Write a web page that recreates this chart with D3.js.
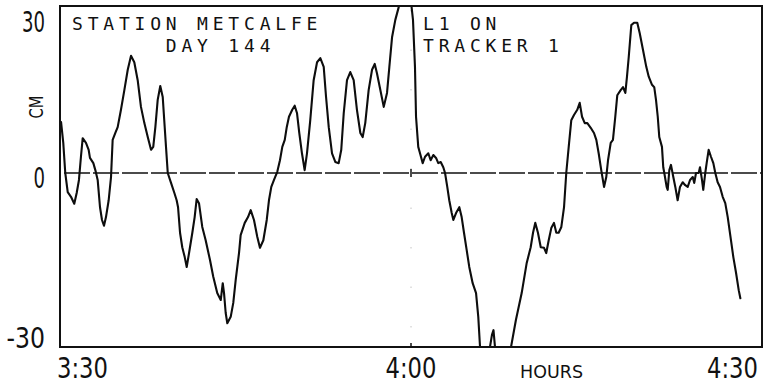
<!DOCTYPE html>
<html>
<head>
<meta charset="utf-8">
<script src="https://cdn.jsdelivr.net/npm/d3@7"></script>
<style>
  html, body { margin: 0; padding: 0; background: #fff; }
  svg { display: block; }
</style>
</head>
<body>
<svg id="chart" width="765" height="387"></svg>
<script>
// Sea-level record, station Metcalfe, day 144 (minutes after 3:30, height in cm)
const minutes = [
  0.09, 0.28, 0.45, 0.66, 0.94, 1.22, 1.43, 1.62, 1.79, 1.94, 2.22, 2.45, 2.56, 2.85, 3.02, 3.22, 3.42, 3.59, 3.76, 3.93,
  4.16, 4.36, 4.50, 4.73, 4.93, 5.21, 5.50, 5.79, 6.07, 6.35, 6.64, 6.92, 7.21, 7.50, 7.78, 7.97, 8.15, 8.35, 8.57, 8.78,
  8.91, 9.06, 9.21, 9.49, 9.77, 9.97, 10.09, 10.26, 10.45, 10.66, 10.83, 11.03, 11.31, 11.51, 11.68, 11.88, 12.16, 12.45, 12.82, 13.10,
  13.44, 13.74, 13.91, 14.02, 14.16, 14.30, 14.59, 14.81, 15.02, 15.30, 15.44, 15.79, 16.07, 16.30, 16.58, 16.86, 17.09, 17.38, 17.67, 17.86,
  18.06, 18.29, 18.57, 18.80, 19.00, 19.21, 19.38, 19.57, 19.85, 20.06, 20.26, 20.45, 20.68, 20.91, 21.11, 21.39, 21.68, 21.97, 22.25, 22.54,
  22.74, 22.97, 23.25, 23.53, 23.82, 24.04, 24.25, 24.53, 24.81, 25.10, 25.38, 25.67, 25.87, 26.09, 26.38, 26.67, 26.90, 27.09, 27.38, 27.67,
  27.95, 28.15, 28.38, 28.66, 28.95, 29.23, 29.66, 30.04, 30.17, 30.34, 30.43, 30.62, 30.77, 31.00, 31.20, 31.48, 31.68, 31.91, 32.14, 32.33,
  32.54, 32.76, 32.91, 33.10, 33.27, 33.48, 33.62, 33.85, 34.13, 34.33, 34.53, 34.76, 34.98, 35.27, 35.56, 35.75, 35.90, 36.32, 36.75, 36.92,
  37.05, 37.18, 37.60, 38.10, 38.55, 38.97, 39.46, 39.89, 40.23, 40.43, 40.62, 40.85, 41.09, 41.37, 41.56, 41.77, 41.99, 42.22, 42.42, 42.62,
  42.85, 43.08, 43.27, 43.48, 43.70, 43.93, 44.21, 44.42, 44.62, 44.85, 45.07, 45.36, 45.64, 45.84, 46.04, 46.26, 46.50, 46.69, 46.84, 47.07,
  47.26, 47.46, 47.63, 47.92, 48.12, 48.32, 48.46, 48.61, 48.83, 49.06, 49.34, 49.55, 49.83, 50.11, 50.32, 50.60, 50.79, 50.94, 51.09, 51.22,
  51.45, 51.56, 51.65, 51.85, 51.94, 52.08, 52.22, 52.42, 52.59, 52.79, 52.99, 53.22, 53.44, 53.65, 53.85, 54.08, 54.21, 54.36, 54.59, 54.70,
  54.87, 54.98, 55.15, 55.27, 55.44, 55.64, 55.84, 56.01, 56.21, 56.41, 56.64, 56.86, 57.07, 57.35, 57.55, 57.78, 58.01, 58.15
];
const heightCm = [
  8.8, 5.2, 0, -3.3, -4.1, -5.3, -3.4, -1.2, 2.8, 6.0, 5.2, 4.0, 2.6, 1.7, 0.5, -1.2, -5.9, -8.1, -9.1, -7.6,
  -4.7, -0.7, 5.7, 6.9, 7.9, 10.9, 14.3, 17.8, 20.2, 19.1, 16.0, 11.4, 8.6, 6.2, 4.0, 4.5, 7.9, 12.6, 15.0, 13.1,
  9.1, 4.5, 0, -1.7, -3.4, -4.7, -5.9, -10.3, -12.8, -14.5, -16.2, -13.8, -10.3, -7.6, -4.5, -5.2, -9.3, -11.6, -15.0, -17.9,
  -20.7, -21.9, -19.0, -20.7, -24.1, -25.9, -24.8, -22.4, -18.4, -13.8, -10.7, -8.6, -7.6, -6.4, -8.1, -11.0, -12.9, -11.6, -8.1, -4.7,
  -2.4, -1.2, 0.2, 2.2, 4.5, 5.7, 7.9, 9.7, 10.9, 11.6, 10.3, 6.9, 3.4, 0.5, 3.4, 9.1, 16.0, 19.1, 19.8, 18.3,
  13.1, 7.9, 3.4, 1.9, 1.7, 4.0, 10.3, 16.0, 17.4, 16.0, 10.9, 6.9, 6.2, 8.6, 14.3, 17.8, 18.8, 17.2, 14.3, 11.4,
  13.8, 18.3, 23.4, 26.4, 28.6, 31.5, 32.4, 28.8, 26.4, 18.3, 9.7, 4.5, 3.4, 1.7, 2.8, 3.4, 2.2, 3.1, 2.6, 1.7,
  1.9, 1.0, 0, -2.4, -4.7, -6.9, -8.1, -6.9, -5.9, -7.6, -10.3, -13.3, -16.2, -19.0, -20.7, -24.8, -30.0, -33.0, -30.0, -27.9,
  -27.1, -30.0, -33.0, -33.0, -30.0, -25.3, -20.7, -15.5, -12.8, -10.3, -8.6, -10.3, -12.8, -12.9, -13.8, -11.6, -9.5, -8.6, -10.3, -10.3,
  -9.3, -5.9, 0, 4.5, 9.1, 10.0, 10.9, 12.1, 9.7, 8.6, 8.6, 7.8, 6.9, 5.7, 3.4, 0.5, -2.4, -0.7, 2.2, 5.2,
  5.7, 9.7, 13.4, 14.3, 14.8, 13.8, 16.6, 20.0, 25.5, 25.9, 25.9, 24.1, 21.2, 18.3, 16.6, 15.2, 14.8, 12.6, 9.7, 6.2,
  4.5, 1.0, 0, -2.4, -2.9, 0.5, 1.4, -0.7, -2.4, -4.7, -2.4, -1.6, -2.1, -2.4, -1.2, -0.7, -1.7, 0, 0, 1.0,
  -1.2, -2.9, 0, 1.7, 4.0, 2.8, 1.7, 0, -1.6, -2.4, -4.1, -5.2, -7.6, -11.6, -14.5, -17.2, -20.2, -21.6
];

const yTicks = [30, 0, -30];
const xTickMinutes = [0, 30, 60];
const xTickLabels = ["3:30", "4:00", "4:30"];
const titleLeft = ["STATION METCALFE", "      DAY 144"];
const titleRight = ["L1 ON", "TRACKER 1"];
const xAxisTitle = "HOURS";
const yAxisTitle = "CM";

const svg = d3.select("#chart");
const frame = { left: 60, right: 762, top: 6, bottom: 347 };

const x = d3.scaleLinear().domain([0, 60]).range([frame.left, frame.right]);
const y = d3.scaleLinear().domain([-30, 30]).range([frame.bottom, -1]);

svg.append("rect").attr("width", 765).attr("height", 387).attr("fill", "#fff");

svg.append("clipPath").attr("id", "plot-clip")
  .append("rect")
  .attr("x", frame.left).attr("y", frame.top)
  .attr("width", frame.right - frame.left).attr("height", frame.bottom - frame.top);

// faint dotted guide at 4:00
svg.append("line")
  .attr("x1", x(30)).attr("x2", x(30))
  .attr("y1", frame.top + 4).attr("y2", frame.bottom)
  .attr("stroke", "#c4c4c4").attr("stroke-width", 1)
  .attr("stroke-dasharray", "1.5 38");

// zero reference line, plotted as long dashes
svg.append("line")
  .attr("x1", frame.left + 4).attr("x2", frame.right)
  .attr("y1", y(0)).attr("y2", y(0))
  .attr("stroke", "#111").attr("stroke-width", 1.6)
  .attr("stroke-dasharray", "26 3");

// tick marks at 4:00 on the zero line and the bottom edge
svg.append("line")
  .attr("x1", x(30)).attr("x2", x(30))
  .attr("y1", y(0) - 4).attr("y2", y(0) + 4)
  .attr("stroke", "#111").attr("stroke-width", 1.5);
svg.append("line")
  .attr("x1", x(30)).attr("x2", x(30))
  .attr("y1", frame.bottom - 4).attr("y2", frame.bottom)
  .attr("stroke", "#111").attr("stroke-width", 1.5);

// the record itself
const series = minutes.map((m, i) => ({ t: m, v: heightCm[i] }));
const line = d3.line().x(d => x(d.t)).y(d => y(d.v));
svg.append("path")
  .datum(series)
  .attr("clip-path", "url(#plot-clip)")
  .attr("d", line)
  .attr("fill", "none")
  .attr("stroke", "#0d0d0d")
  .attr("stroke-width", 2.1)
  .attr("stroke-linejoin", "round")
  .attr("stroke-linecap", "round");

// plot frame
svg.append("rect")
  .attr("x", frame.left).attr("y", frame.top)
  .attr("width", frame.right - frame.left).attr("height", frame.bottom - frame.top)
  .attr("fill", "none").attr("stroke", "#111").attr("stroke-width", 2);

// plotter-style annotation text
const mono = "'DejaVu Sans Mono', monospace";
function plotterText(lines, x0) {
  lines.forEach((s, i) => {
    svg.append("text")
      .attr("x", x0).attr("y", 29.5 + i * 22)
      .attr("font-family", mono).attr("font-size", 18)
      .attr("letter-spacing", "4.8px")
      .attr("fill", "#111")
      .attr("xml:space", "preserve")
      .style("white-space", "pre")
      .text(s);
  });
}
plotterText(titleLeft, 72);
plotterText(titleRight, 423);

// narrow lettering: the glyphs are squeezed horizontally to a set width
const numFont = "'DejaVu Sans', sans-serif";
function narrowText(str, left, baseline, size, width, rotate) {
  const g = svg.append("g");
  const t = g.append("text")
    .attr("x", 0).attr("y", 0)
    .attr("font-family", numFont).attr("font-size", size)
    .attr("fill", "#111")
    .text(str);
  const natural = t.node().getComputedTextLength();
  const sx = width / natural;
  if (rotate) {
    g.attr("transform", `translate(${left},${baseline}) rotate(-90) scale(${sx},1)`);
  } else {
    g.attr("transform", `translate(${left},${baseline}) scale(${sx},1)`);
  }
  return g;
}

yTicks.forEach(v => {
  const label = String(v);
  const cy = Math.max(21, Math.min(337, y(v) + 4));
  const w = label.length * 11.5 + (v < 0 ? 4 : 0);
  narrowText(label, 45 - w, cy + 10.5, 29, w);
});

const xLabelWidth = 51;
xTickMinutes.forEach((m, i) => {
  const last = xTickMinutes.length - 1;
  const left = i === 0 ? x(m) - 3
    : (i === last ? x(m) - 4 - xLabelWidth : x(m) - xLabelWidth / 2);
  narrowText(xTickLabels[i], left, 378, 29, xLabelWidth);
});

narrowText(xAxisTitle, 520, 378, 18, 63);

// rotated unit label, reading upward
narrowText(yAxisTitle, 43, 118.5, 20, 23, true);
</script>
</body>
</html>
